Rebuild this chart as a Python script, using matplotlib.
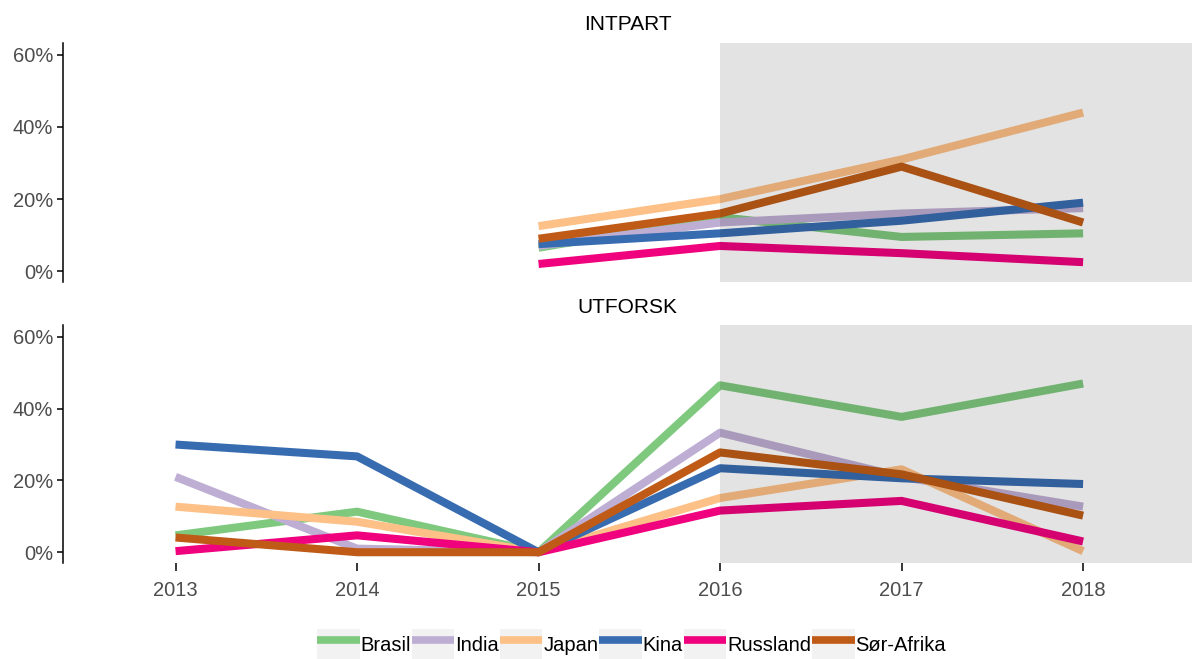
import matplotlib
matplotlib.use("Agg")
import matplotlib.pyplot as plt
from matplotlib.patches import Patch
from matplotlib.lines import Line2D
from matplotlib.legend_handler import HandlerTuple

plt.rcParams['font.family'] = ['Liberation Sans', 'DejaVu Sans']

# Data (shares, %)
years = [2013, 2014, 2015, 2016, 2017, 2018]
countries = ["Brasil", "India", "Japan", "Kina", "Russland", "Sør-Afrika"]
colors = ["#7FC97F", "#BEAED4", "#FDC086", "#386CB0", "#F0027F", "#BF5B17"]

intpart_years = [2015, 2016, 2017, 2018]
intpart_brasil = [6.5, 15.0, 9.5, 10.5]
intpart_india = [7.0, 13.5, 16.0, 17.5]
intpart_japan = [12.5, 20.0, 31.0, 44.0]
intpart_kina = [7.5, 10.5, 14.0, 19.0]
intpart_russland = [2.0, 7.0, 5.0, 2.5]
intpart_sorafrika = [9.0, 16.0, 29.0, 13.5]

utforsk_brasil = [4.7, 11.3, 0.0, 46.5, 37.7, 47.0]
utforsk_india = [21.0, 1.0, 0.0, 33.3, 21.0, 12.7]
utforsk_japan = [12.7, 8.5, 0.0, 15.1, 23.1, 0.3]
utforsk_kina = [30.0, 26.7, 0.0, 23.4, 20.6, 19.0]
utforsk_russland = [0.3, 4.7, 0.0, 11.6, 14.3, 3.0]
utforsk_sorafrika = [4.1, 0.0, 0.0, 27.8, 21.7, 10.2]

panels = [
    ("INTPART", intpart_years,
     [intpart_brasil, intpart_india, intpart_japan, intpart_kina, intpart_russland, intpart_sorafrika]),
    ("UTFORSK", years,
     [utforsk_brasil, utforsk_india, utforsk_japan, utforsk_kina, utforsk_russland, utforsk_sorafrika]),
]

W, H = 1192, 659
fig = plt.figure(figsize=(W / 100, H / 100), dpi=100)

# panel boxes in pixels: left, top, right, bottom
boxes = [(63, 43, 1192, 282), (63, 325, 1192, 563)]
xlim = (2012.38, 2018.6)

for (title, xs, series), (l, t, r, b) in zip(panels, boxes):
    ax = fig.add_axes([l / W, 1 - b / H, (r - l) / W, (b - t) / H])
    for name, col, vals in zip(countries, colors, series):
        ax.plot(xs, vals, color=col, lw=5.8, solid_capstyle='butt', solid_joinstyle='round')
    # shaded period drawn on top of the lines
    ax.axvspan(2016, xlim[1], color='black', alpha=0.11, lw=0, zorder=5)
    ax.set_xlim(*xlim)
    ax.set_ylim(-3, 63.3)
    ax.set_yticks([0, 20, 40, 60])
    ax.set_yticklabels(["0%", "20%", "40%", "60%"])
    for s in ["top", "right", "bottom"]:
        ax.spines[s].set_visible(False)
    ax.spines["left"].set_color("black")
    ax.spines["left"].set_linewidth(1.1)
    ax.tick_params(axis='y', labelsize=14.5, labelcolor="#4d4d4d", color="black", length=4, width=1.1, pad=3)
    ax.set_xticks(years)
    if title == "UTFORSK":
        ax.tick_params(axis='x', labelsize=14.5, labelcolor="#4d4d4d", color="black", length=6, width=1.1, pad=7)
    else:
        ax.tick_params(axis='x', bottom=False, labelbottom=False)
    ax.set_title(title, fontsize=15, color="black", pad=9)

handles = [(Patch(facecolor="#f2f2f2", edgecolor="none"),
            Line2D([], [], color=c, lw=5.5, solid_capstyle='butt')) for c in colors]
fig.legend(handles, countries, loc="center", bbox_to_anchor=(0.53, 1 - 645 / H), ncol=6,
           frameon=False, fontsize=14.5, handler_map={tuple: HandlerTuple(ndivide=1)},
           handlelength=2.1, handleheight=2.0, handletextpad=0.05, columnspacing=0.05,
           borderaxespad=0)

fig.savefig("out.png", dpi=100)
